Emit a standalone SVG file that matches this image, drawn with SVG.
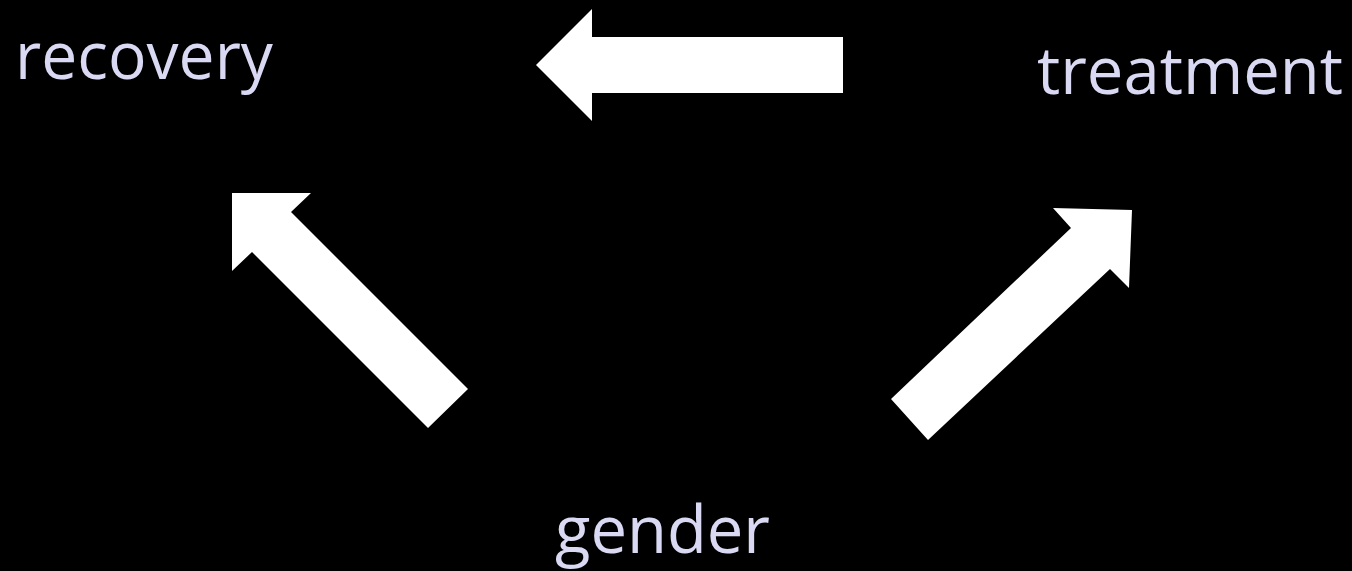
<svg xmlns="http://www.w3.org/2000/svg" width="1352" height="571" viewBox="0 0 1352 571">
<style>
.lbl{font-family:"Open Sans","Liberation Sans",sans-serif;font-size:66px;fill:#D9D9F3;}
.arr{fill:#FFFFFF;stroke:none;}
</style>
<rect width="1352" height="571" fill="#000000"/>
<g id="connectors">
<polygon class="arr" points="536,65 592,9 592,37 843,37 843,93 592,93 592,121"/>
<polygon class="arr" points="232,193 311,193 291,212 468,389 428,428 252,252 232,271"/>
<polygon class="arr" points="1132,210 1053,208 1071,228 891,399 928,440 1110,269 1129,288"/>
</g>
<g id="recovery"><text class="lbl" x="15" y="79" textLength="258" lengthAdjust="spacingAndGlyphs">recovery</text></g>
<g id="treatment"><text class="lbl" x="1037" y="94" textLength="306" lengthAdjust="spacingAndGlyphs">treatment</text></g>
<g id="gender"><text class="lbl" x="555" y="553" textLength="215" lengthAdjust="spacingAndGlyphs">gender</text></g>
</svg>
